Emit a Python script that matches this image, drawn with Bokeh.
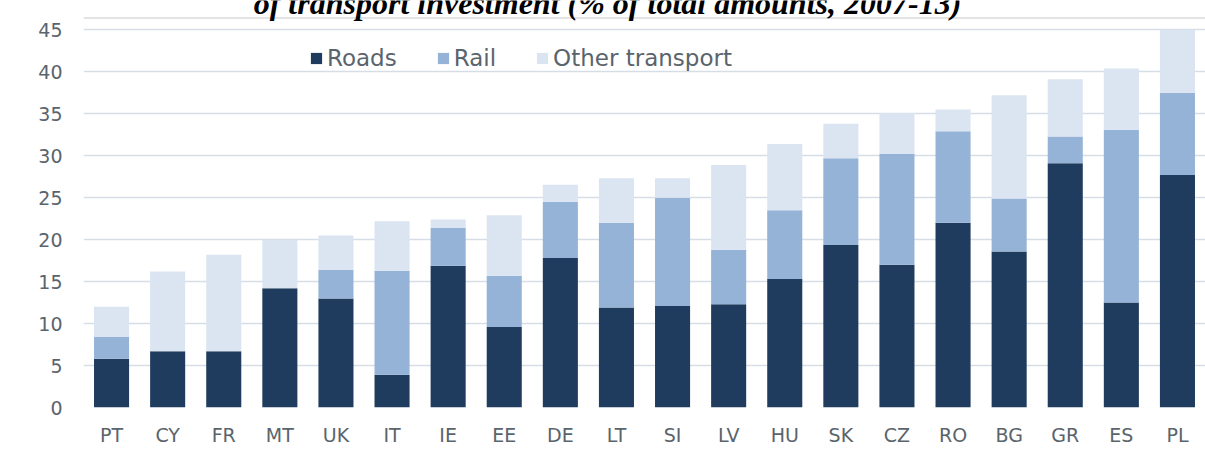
from bokeh.plotting import figure
from bokeh.models import (ColumnDataSource, Range1d, FixedTicker, Legend, LegendItem,
                          Label, Span)
from bokeh.embed import file_html
from bokeh.resources import INLINE

countries = ["PT", "CY", "FR", "MT", "UK", "IT", "IE", "EE", "DE", "LT",
             "SI", "LV", "HU", "SK", "CZ", "RO", "BG", "GR", "ES", "PL"]
roads = [5.8, 6.7, 6.7, 14.2, 13.0, 3.9, 16.9, 9.6, 17.8, 11.9,
         12.1, 12.3, 15.3, 19.35, 17.0, 22.0, 18.6, 29.1, 12.5, 27.7]
rail = [2.6, 0.0, 0.0, 0.0, 3.4, 12.4, 4.5, 6.1, 6.7, 10.1,
        12.9, 6.5, 8.2, 10.35, 13.2, 10.9, 6.3, 3.2, 20.6, 9.8]
other = [3.6, 9.5, 11.5, 5.8, 4.1, 5.9, 1.0, 7.2, 2.05, 5.3,
         2.3, 10.1, 7.9, 4.1, 4.9, 2.6, 12.3, 6.8, 7.3, 7.5]
series = ["Roads", "Rail", "Other transport"]
y_ticks = [0, 5, 10, 15, 20, 25, 30, 35, 40, 45]
title_text = "of transport investment (% of total amounts, 2007-13)"

colors = ["#1F3C5E", "#95B3D7", "#DBE5F1"]
text_color = "#5A646C"
FONT = "DejaVu Sans"

xs = list(range(len(countries)))
source = ColumnDataSource(dict(x=xs, Roads=roads, Rail=rail, Other=other))

W, H = 1205, 464
# plot area reaches the top of the canvas so that the (cut-off) heading can show above 45
p = figure(width=W, height=H, output_backend="svg", toolbar_location=None,
           x_range=Range1d(-0.5, 19.5), y_range=Range1d(0, 48.49),
           min_border_left=83, min_border_right=0, min_border_top=0,
           min_border_bottom=57)
p.outline_line_color = None
p.background_fill_color = "white"
p.border_fill_color = "white"

renderers = p.vbar_stack(["Roads", "Rail", "Other"], x="x", width=0.625,
                         color=colors, line_color=None, source=source)

# axes
p.xaxis.ticker = FixedTicker(ticks=xs)
p.xaxis.major_label_overrides = {i: c for i, c in enumerate(countries)}
p.yaxis.ticker = FixedTicker(ticks=y_ticks)
for ax in (p.xaxis, p.yaxis):
    ax.axis_line_color = None
    ax.major_tick_line_color = None
    ax.minor_tick_line_color = None
    ax.major_tick_out = 0
    ax.major_tick_in = 0
    ax.minor_tick_out = 0
    ax.major_label_text_font = FONT
    ax.major_label_text_font_size = "19px"
    ax.major_label_text_color = text_color
p.xaxis.major_label_standoff = 16
p.yaxis.major_label_standoff = 21

p.xgrid.grid_line_color = None
p.ygrid.ticker = FixedTicker(ticks=y_ticks)
p.ygrid.grid_line_color = "#D5DDE6"
p.ygrid.grid_line_width = 1.5

# top edge of the chart box
p.add_layout(Span(location=46.41, dimension="width", line_color="#DADADA",
                  line_width=1.5))

# legend
items = [LegendItem(label=s, renderers=[r]) for s, r in zip(series, renderers)]
legend = Legend(items=items, orientation="horizontal", location=(226, 336),
                glyph_width=14, glyph_height=14, label_standoff=4, spacing=39,
                padding=0, margin=0, border_line_color=None,
                background_fill_alpha=0, label_text_font=FONT,
                label_text_font_size="23px", label_text_color=text_color)
p.add_layout(legend)

# heading (cut off at the top as in the reference)
p.add_layout(Label(x=524, y=405, x_units="screen", y_units="screen", text=title_text,
                   text_font="Liberation Serif", text_font_style="bold italic",
                   text_font_size="32px", text_align="center",
                   text_baseline="alphabetic", text_color="black"))

open("out.html", "w").write(file_html(p, INLINE))
